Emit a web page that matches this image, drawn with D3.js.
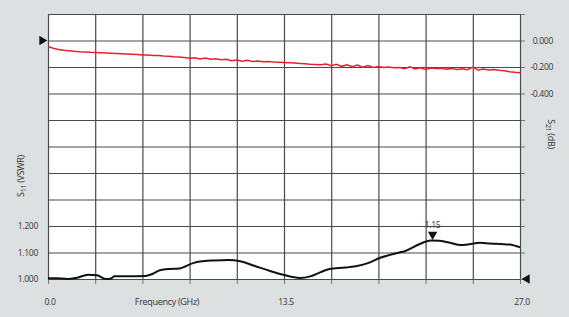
<!DOCTYPE html>
<html lang="en">
<head>
    <meta charset="UTF-8" />
    <title>S11 / S21</title>
    <script src="https://d3js.org/d3.v7.min.js"></script>
    <style>
        body { margin: 0; background: #dde0e1; }
        text { font-family: "Open Sans", sans-serif; fill: #333; }
        .grid line { stroke: #4a4a4a; stroke-width: 1.2; }
        .grid .domain { stroke: none; }
        .ticks line { stroke: #777; }
        .ticks .domain { stroke: none; }
    </style>
</head>
<body>
<svg id="chart" width="569" height="317"></svg>
<script>
// S21 insertion loss (dB) vs frequency (GHz)
const s21Freq = [
    0.0, 0.3, 0.6, 0.9, 1.2, 1.5, 1.8, 2.1, 2.4, 2.7,
    3.0, 3.3, 3.6, 3.9, 4.2, 4.5, 4.8, 5.1, 5.4, 5.7,
    6.0, 6.3, 6.6, 6.9, 7.2, 7.5, 7.8, 8.1, 8.4, 8.7,
    9.0, 9.3, 9.6, 9.9, 10.2, 10.5, 10.8, 11.1, 11.4, 11.7,
    12.0, 12.3, 12.6, 12.9, 13.2, 13.5, 13.8, 14.1, 14.4, 14.7,
    15.0, 15.3, 15.6, 15.9, 16.2, 16.5, 16.8, 17.1, 17.4, 17.7,
    18.0, 18.3, 18.6, 18.9, 19.2, 19.5, 19.8, 20.1, 20.4, 20.7,
    21.0, 21.3, 21.6, 21.9, 22.2, 22.5, 22.8, 23.1, 23.4, 23.7,
    24.0, 24.3, 24.6, 24.9, 25.2, 25.5, 25.8, 26.1, 26.4, 26.7, 27.0
];
const s21Values = [
    -0.045, -0.058, -0.068, -0.074, -0.078, -0.082, -0.085, -0.087, -0.089, -0.090,
    -0.092, -0.094, -0.096, -0.098, -0.100, -0.102, -0.104, -0.106, -0.109, -0.110,
    -0.113, -0.114, -0.117, -0.119, -0.123, -0.125, -0.129, -0.134, -0.131, -0.139,
    -0.133, -0.142, -0.137, -0.146, -0.141, -0.152, -0.147, -0.156, -0.150, -0.159,
    -0.155, -0.161, -0.159, -0.163, -0.164, -0.166, -0.168, -0.170, -0.173, -0.176,
    -0.180, -0.181, -0.183, -0.178, -0.190, -0.180, -0.195, -0.184, -0.198, -0.186,
    -0.201, -0.189, -0.203, -0.196, -0.204, -0.200, -0.206, -0.203, -0.213, -0.198,
    -0.215, -0.205, -0.218, -0.207, -0.211, -0.209, -0.216, -0.212, -0.219, -0.213,
    -0.221, -0.200, -0.223, -0.216, -0.222, -0.219, -0.224, -0.228, -0.236, -0.240, -0.243
];

// S11 return loss as VSWR
const s11Freq = [
    0.0, 0.5, 1.1, 1.6, 2.3, 2.8, 3.3, 3.6, 3.8, 4.5,
    5.5, 6.0, 6.4, 7.0, 7.5, 8.3, 8.7, 9.5, 10.3, 11.0,
    11.8, 12.7, 13.5, 14.4, 15.0, 15.6, 16.1, 17.0, 17.6, 18.3,
    19.0, 20.1, 20.4, 21.2, 21.9, 22.4, 23.0, 23.6, 24.1, 24.7,
    25.3, 25.9, 26.4, 27.0
];
const s11Values = [
    1.003, 1.003, 1.000, 1.004, 1.016, 1.014, 1.000, 1.002, 1.010, 1.010,
    1.011, 1.020, 1.033, 1.038, 1.040, 1.060, 1.066, 1.070, 1.072, 1.067,
    1.050, 1.030, 1.015, 1.004, 1.010, 1.026, 1.038, 1.043, 1.048, 1.060,
    1.080, 1.100, 1.105, 1.130, 1.145, 1.144, 1.137, 1.128, 1.131, 1.137,
    1.134, 1.132, 1.130, 1.120
];

const xTickLabels = [0, 13.5, 27];
const s11TickLabels = [1.0, 1.1, 1.2];
const s21TickLabels = [0, -0.2, -0.4];
const markerFreq = 22.0;
const markerValue = 1.145;
const markerLabel = "1.15";

const svg = d3.select("svg#chart");
const margins = { top: 14, right: 49, bottom: 38, left: 48 };
const chartWidth = svg.attr("width") - margins.left - margins.right;
const chartHeight = svg.attr("height") - margins.top - margins.bottom;

const xScale = d3.scaleLinear().domain([0, 27]).range([margins.left, margins.left + chartWidth]);
const yLeft = d3.scaleLinear().domain([1, 2]).range([margins.top + chartHeight, margins.top]);
const yRight = d3.scaleLinear().domain([-1.8, 0.2]).range([margins.top + chartHeight, margins.top]);

const gridX = d3.range(0, 27.01, 2.7);
const gridY = d3.range(1, 2.01, 0.1);

// plot background
svg.append("rect")
    .attr("x", margins.left)
    .attr("y", margins.top)
    .attr("width", chartWidth)
    .attr("height", chartHeight)
    .attr("fill", "white");

// tick stubs below and to the right
svg.append("g")
    .attr("class", "ticks")
    .attr("transform", `translate(0,${margins.top + chartHeight})`)
    .call(d3.axisBottom(xScale).tickValues(gridX).tickFormat("").tickSize(5));
svg.append("g")
    .attr("class", "ticks")
    .attr("transform", `translate(${margins.left + chartWidth},0)`)
    .call(d3.axisRight(yLeft).tickValues(gridY).tickFormat("").tickSize(5));

// grid
svg.append("g")
    .attr("class", "grid")
    .attr("transform", `translate(0,${margins.top + chartHeight})`)
    .call(d3.axisBottom(xScale).tickValues(gridX).tickFormat("").tickSize(-chartHeight).tickSizeOuter(0));
svg.append("g")
    .attr("class", "grid")
    .attr("transform", `translate(${margins.left},0)`)
    .call(d3.axisLeft(yLeft).tickValues(gridY).tickFormat("").tickSize(-chartWidth).tickSizeOuter(0));

// lines
const s21Data = s21Freq.map((f, i) => ({ f: f, v: s21Values[i] }));
const s11Data = s11Freq.map((f, i) => ({ f: f, v: s11Values[i] }));

svg.append("path")
    .datum(s21Data)
    .attr("fill", "none")
    .attr("stroke", "#e8202e")
    .attr("stroke-width", 1.5)
    .attr("d", d3.line().x(d => xScale(d.f)).y(d => yRight(d.v)));

svg.append("path")
    .datum(s11Data)
    .attr("fill", "none")
    .attr("stroke", "#111")
    .attr("stroke-width", 2)
    .attr("d", d3.line().x(d => xScale(d.f)).y(d => yLeft(d.v)).curve(d3.curveMonotoneX));

// tick labels
svg.append("g")
    .selectAll("text")
    .data(xTickLabels)
    .join("text")
    .attr("x", d => xScale(d) + 2)
    .attr("y", 305)
    .attr("text-anchor", "middle")
    .attr("font-size", 8.5)
    .attr("letter-spacing", -0.3)
    .text(d => d.toFixed(1));

svg.append("g")
    .selectAll("text")
    .data(s11TickLabels)
    .join("text")
    .attr("x", 38)
    .attr("y", d => yLeft(d) + 3)
    .attr("text-anchor", "end")
    .attr("font-size", 8.5)
    .attr("letter-spacing", -0.3)
    .text(d => d.toFixed(3));

svg.append("g")
    .selectAll("text")
    .data(s21TickLabels)
    .join("text")
    .attr("x", 553)
    .attr("y", d => yRight(d) + 3)
    .attr("text-anchor", "end")
    .attr("font-size", 8.5)
    .attr("letter-spacing", -0.3)
    .text(d => d.toFixed(3));

// axis titles
svg.append("text")
    .attr("x", 167)
    .attr("y", 305)
    .attr("text-anchor", "middle")
    .attr("font-size", 9)
    .attr("letter-spacing", -0.3)
    .text("Frequency (GHz)");

const leftTitle = svg.append("text")
    .attr("transform", "translate(24,176) rotate(-90)")
    .attr("text-anchor", "middle")
    .attr("font-size", 9)
    .attr("letter-spacing", -0.3);
leftTitle.append("tspan").text("S");
leftTitle.append("tspan").attr("dy", 2).attr("font-size", 7).text("11");
leftTitle.append("tspan").attr("dy", -2).text(" (VSWR)");

const rightTitle = svg.append("text")
    .attr("transform", "translate(548,134) rotate(90)")
    .attr("text-anchor", "middle")
    .attr("font-size", 9)
    .attr("letter-spacing", -0.3);
rightTitle.append("tspan").text("S");
rightTitle.append("tspan").attr("dy", 2).attr("font-size", 7).text("21");
rightTitle.append("tspan").attr("dy", -2).text(" (dB)");

// reference markers
const tri = d3.symbol().type(d3.symbolTriangle).size(38);
svg.append("path")
    .attr("d", tri())
    .attr("transform", `translate(${margins.left - 6},${yRight(0)}) rotate(90)`)
    .attr("fill", "#111");
svg.append("path")
    .attr("d", tri())
    .attr("transform", `translate(${margins.left + chartWidth + 7},${yLeft(1)}) rotate(-90)`)
    .attr("fill", "#111");

// peak marker
svg.append("path")
    .attr("d", tri())
    .attr("transform", `translate(${xScale(markerFreq)},${yLeft(markerValue) - 6}) rotate(180)`)
    .attr("fill", "#111");
svg.append("text")
    .attr("x", xScale(markerFreq))
    .attr("y", yLeft(markerValue) - 13)
    .attr("text-anchor", "middle")
    .attr("font-size", 8.5)
    .attr("letter-spacing", -0.3)
    .text(markerLabel);
</script>
</body>
</html>
